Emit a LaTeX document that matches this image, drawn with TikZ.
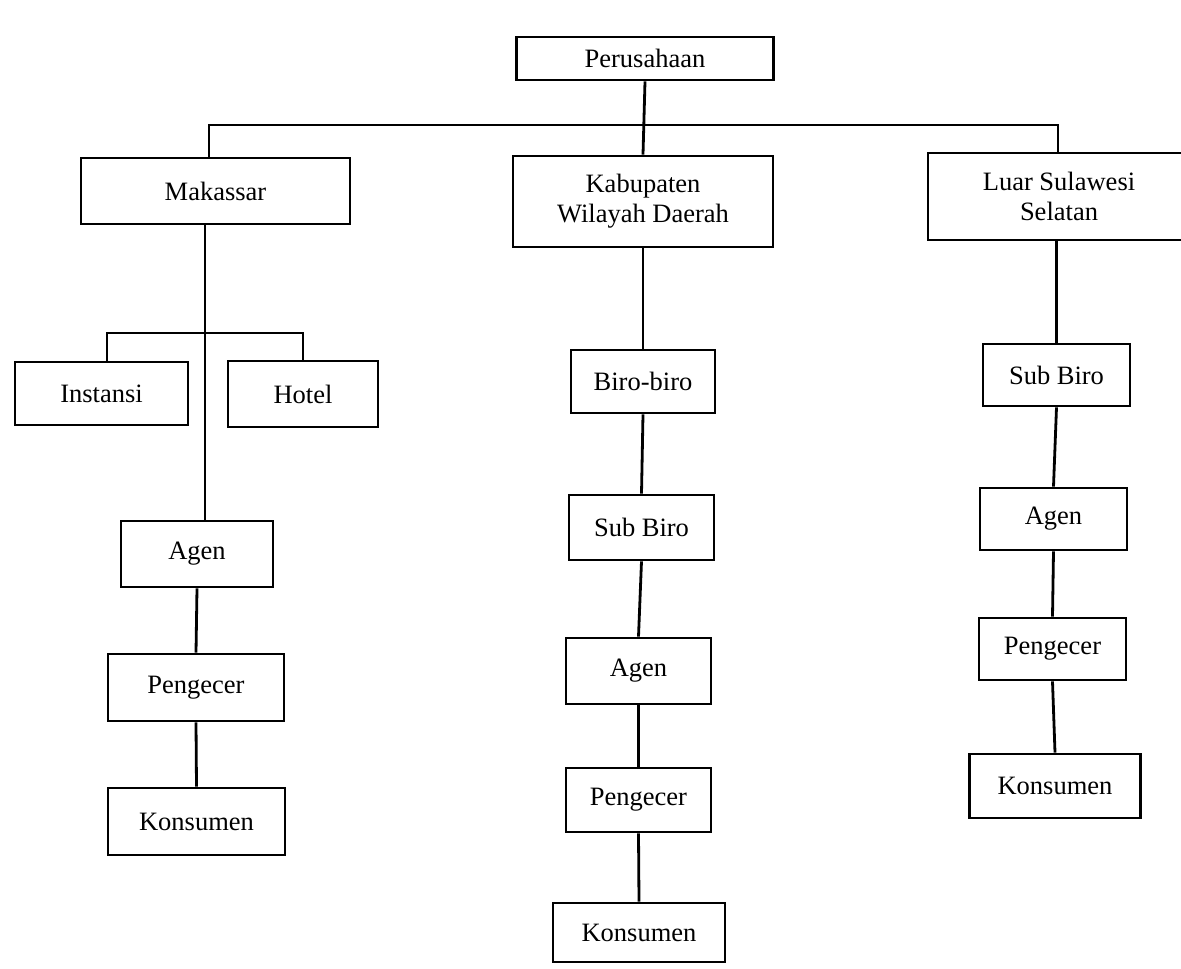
\documentclass[tikz,border=0pt]{standalone}
\usepackage{fontspec}
\setmainfont{Liberation Serif}
\begin{document}
\begin{tikzpicture}[x=1pt,y=-1pt,
  orgbox/.style={draw, line width=2.8pt, inner sep=0pt, align=center,
    font=\fontsize{26.5}{30}\selectfont},
  link/.style={line width=2.8pt}]
\useasboundingbox (0,0) rectangle (1181,969);
\fill[white] (0,0) rectangle (1181,969);
% top
\node[orgbox, minimum width=257pt, minimum height=43pt] (per) at (645,58.5) {Perusahaan};
\node[orgbox, minimum width=269pt, minimum height=66pt] (mak) at (215.5,191) {Makassar};
\node[orgbox, minimum width=260pt, minimum height=91pt] (kab) at (643,201.5) {Kabupaten\\Wilayah Daerah};
\node[orgbox, minimum width=262pt, minimum height=87pt] (luar) at (1059,196.5) {Luar Sulawesi\\Selatan};
% left column
\node[orgbox, minimum width=173pt, minimum height=63pt] (ins) at (101.5,393.5) {Instansi};
\node[orgbox, minimum width=150pt, minimum height=66pt] (hot) at (303,394) {Hotel};
\node[orgbox, minimum width=152pt, minimum height=66pt] (ag1) at (197,554) {Agen};
\node[orgbox, minimum width=176pt, minimum height=67pt] (pe1) at (196,687.5) {Pengecer};
\node[orgbox, minimum width=177pt, minimum height=67pt] (ko1) at (196.5,821.5) {Konsumen};
% middle column
\node[orgbox, minimum width=144pt, minimum height=63pt] (bb) at (643,381.5) {Biro-biro};
\node[orgbox, minimum width=145pt, minimum height=65pt] (sb2) at (641.5,527.5) {Sub Biro};
\node[orgbox, minimum width=145pt, minimum height=66pt] (ag2) at (638.5,671) {Agen};
\node[orgbox, minimum width=145pt, minimum height=64pt] (pe2) at (638.5,800) {Pengecer};
\node[orgbox, minimum width=172pt, minimum height=59pt] (ko2) at (639,932.5) {Konsumen};
% right column
\node[orgbox, minimum width=147pt, minimum height=62pt] (sb3) at (1056.5,375) {Sub Biro};
\node[orgbox, minimum width=147pt, minimum height=62pt] (ag3) at (1053.5,519) {Agen};
\node[orgbox, minimum width=147pt, minimum height=62pt] (pe3) at (1052.5,649) {Pengecer};
\node[orgbox, minimum width=171pt, minimum height=64pt] (ko3) at (1055,786) {Konsumen};
% helper coordinates
\coordinate (busL) at (209,125);
\coordinate (busR) at (1058,125);
\coordinate (lc) at (205,333);
\coordinate (brL) at (107,333);
\coordinate (brR) at (303,333);
% connectors
\draw[link] (per.south) -- (kab.north);
\draw[link] (busL |- mak.north) -- (busL) -- (busR) -- (busR |- luar.north);
\draw[link] (lc |- mak.south) -- (lc |- ag1.north);
\draw[link] (brL |- ins.north) -- (brL) -- (brR) -- (hot.north);
\draw[link] (ag1.south) -- (pe1.north);
\draw[link] (pe1.south) -- (ko1.north);
\draw[link] (kab.south) -- (bb.north);
\draw[link] (bb.south) -- (sb2.north);
\draw[link] (sb2.south) -- (ag2.north);
\draw[link] (ag2.south) -- (pe2.north);
\draw[link] (pe2.south) -- (ko2.north);
\draw[link] (sb3.north |- luar.south) -- (sb3.north);
\draw[link] (sb3.south) -- (ag3.north);
\draw[link] (ag3.south) -- (pe3.north);
\draw[link] (pe3.south) -- (ko3.north);
\end{tikzpicture}
\end{document}
